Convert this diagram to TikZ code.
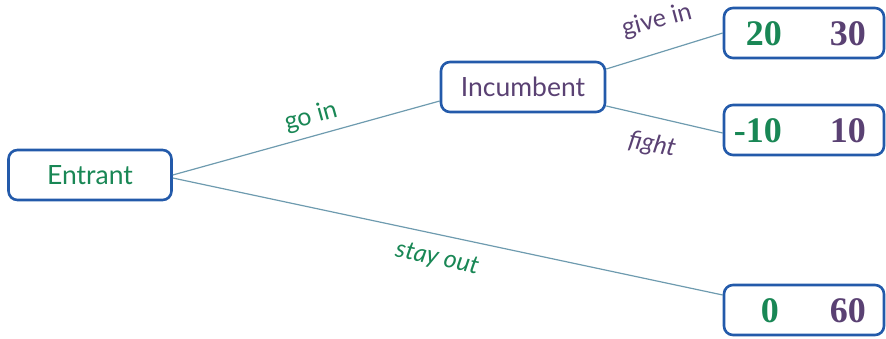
\documentclass[tikz,border=0pt]{standalone}
\usepackage{fontspec}
\setmainfont{Lato}
\newfontfamily\numfont{Liberation Serif}
\definecolor{tgreen}{RGB}{25,135,85}
\definecolor{tpurple}{RGB}{90,65,115}
\definecolor{bblue}{RGB}{35,90,170}
\definecolor{lline}{RGB}{110,155,175}
\begin{document}
\begin{tikzpicture}[x=1pt,y=-1pt,
  player/.style={draw=bblue,line width=2.6pt,rounded corners=9pt,fill=white,inner sep=0pt,font=\fontsize{26.5}{30}\selectfont},
  payoff/.style={draw=bblue,line width=2.6pt,rounded corners=9pt,fill=white,inner sep=0pt,minimum width=160pt,minimum height=50pt},
  num/.style={font=\numfont\bfseries\fontsize{36}{40}\selectfont,anchor=base east,inner sep=0pt},
  edge/.style={draw=lline,line width=1.2pt},
  lab/.style={font=\fontsize{25}{28}\selectfont,inner sep=1pt},
  ilab/.style={font=\itshape\fontsize{25}{28}\selectfont,inner sep=1pt}]
\useasboundingbox (0,0) rectangle (886,338);
\node[player,minimum width=163pt,minimum height=50pt,text=tgreen] (entrant) at (90,175) {Entrant};
\node[player,minimum width=164pt,minimum height=50pt,text=tpurple] (incumbent) at (523,87) {Incumbent};
\node[payoff] (p1) at (804,33) {};
\node[payoff] (p2) at (804,130) {};
\node[payoff] (p3) at (804,310) {};
\draw[edge] (entrant.east) -- ([yshift=-14pt]incumbent.west);
\draw[edge] ([yshift=-3pt]entrant.east) -- ([yshift=15pt]p3.west);
\draw[edge] ([yshift=18pt]incumbent.east) -- (p1.west);
\draw[edge] ([yshift=-19pt]incumbent.east) -- ([yshift=-3pt]p2.west);
\node[num,text=tgreen] (a1) at (782,45) {20};
\node[num,text=tpurple] (b1) at (866,45) {30};
\node[num,text=tgreen] (a2) at (782,142) {-10};
\node[num,text=tpurple] (b2) at (866,142) {10};
\node[num,text=tgreen] (a3) at (779,322) {0};
\node[num,text=tpurple] (b3) at (866,322) {60};
\node[lab,text=tgreen,rotate=15.5] (lgo) at (311,117) {go in};
\node[ilab,text=tgreen,rotate=-12] (lstay) at (437,259) {stay out};
\node[lab,text=tpurple,rotate=15] (lgive) at (657,21) {give in};
\node[ilab,text=tpurple,rotate=-11] (lfight) at (652,145) {fight};
\end{tikzpicture}
\end{document}
